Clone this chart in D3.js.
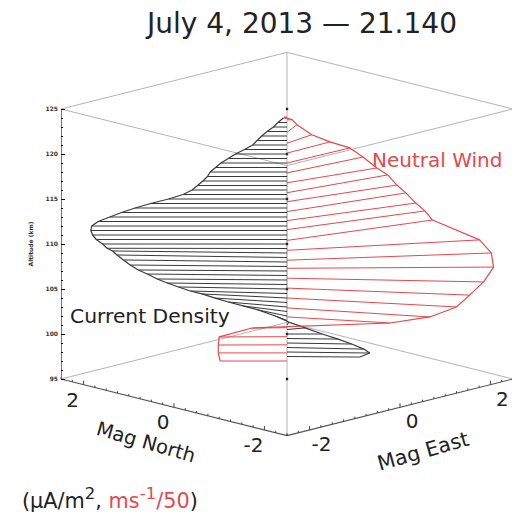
<!DOCTYPE html>
<html lang="en">
<head>
<meta charset="utf-8" />
<title>July 4, 2013 - 21.140</title>
<script src="https://cdn.jsdelivr.net/npm/d3@7"></script>
<style>
  body { margin: 0; background: #fff; }
  svg { display: block; }
  text { font-family: "DejaVu Sans", Verdana, sans-serif; }
</style>
</head>
<body>
<div id="chart"></div>
<script>
"use strict";

// current density profile (uA/m^2), one value per altitude (km)
const blackAlt = [124, 123.5, 123, 122.5, 122, 121.5, 121, 120.5, 120, 119.5, 119, 118.5, 118, 117.5, 117,
  116.5, 116, 115.5, 115, 114.5, 114, 113.5, 113, 112.5, 112, 111.5, 111, 110.5, 110, 109.5, 109, 108.5,
  108, 107.5, 107, 106.5, 106, 105.5, 105, 104.5, 104, 103.5, 103, 102.5, 102, 101.5, 101, 100.5, 100,
  99.5, 99, 98.5, 98, 97.5]
const blackNorth = [0.04, 0.10, 0.15, 0.22, 0.28, 0.33, 0.38, 0.47, 0.57, 0.65, 0.73, 0.79, 0.85, 0.88, 0.93,
  0.99, 1.05, 1.15, 1.31, 1.51, 1.68, 1.83, 1.96, 2.09, 2.16, 2.17, 2.15, 2.11, 2.04, 2.00, 2.02, 1.99,
  1.90, 1.80, 1.69, 1.61, 1.48, 1.39, 1.29, 1.18, 1.12, 0.99, 0.87, 0.73, 0.59, 0.33, 0.11, -0.13, -0.39,
  -0.59, -0.76, -0.92, -0.96, -0.83]
const blackEast = [-0.04, -0.10, -0.15, -0.22, -0.28, -0.33, -0.38, -0.47, -0.57, -0.65, -0.73, -0.79, -0.85, -0.88, -0.93,
  -0.99, -1.05, -1.15, -1.31, -1.51, -1.68, -1.83, -1.96, -2.09, -2.16, -2.17, -2.15, -2.11, -2.04, -1.98, -1.84, -1.77,
  -1.72, -1.67, -1.60, -1.48, -1.39, -1.26, -1.11, -0.96, -0.76, -0.60, -0.43, -0.24, -0.05, 0.07, 0.15, 0.27, 0.39,
  0.54, 0.67, 0.78, 0.87, 0.78]

// neutral wind profile (m/s / 50)
const redAlt = [124.1, 123.8, 122.4, 121.2, 120.1, 119.0, 117.9, 116.8, 115.7, 114.7, 113.6, 112.6, 111.6, 110.4,
  109.3, 108.2, 107.3, 106.2, 105.1, 104.0, 102.9, 101.9, 100.7, 99.7, 98.8, 97.9, 97.0]
const redNorth = [0.03, -0.06, 0.23, 0.10, 0.02, -0.03, -0.14, -0.34, -0.33, -0.48, -0.49, -0.65, -0.70, -0.71,
  -1.67, -1.94, -2.23, -2.34, -2.33, -2.27, -1.98, -1.41, 0.37, 0.74, 0.75, 0.76, 0.74]
const redEast = [-0.03, 0.06, 0.45, 0.65, 0.97, 1.36, 1.54, 1.65, 1.90, 1.95, 2.14, 2.20, 2.35, 2.51,
  2.59, 2.58, 2.34, 2.01, 1.71, 1.48, 1.18, 0.87, -0.40, -0.76, -0.77, -0.76, -0.74]

const altTicks = [95, 100, 105, 110, 115, 120, 125]
const horizTicks = [-2, 0, 2]

let width = 512, height = 514
let cx = 287
let half = 2.5
let red = "#e8474c"

let y = d3.scaleLinear().domain([95, 125]).range([379, 109])
let h = d3.scaleLinear().domain([-half, half]).range([-113, 113])
let v = d3.scaleLinear().domain([-half, half]).range([-28.3, 28.3])
let proj = (n, e, alt) => [cx + h(e) - h(n), y(alt) - v(n) - v(e)]

let svg = d3.select("#chart").append("svg")
    .attr("width", width)
    .attr("height", height)

// box
let c = (n, e, a) => proj(n * half, e * half, a)
let boxEdges = [
  [c(1, -1, 125), c(1, 1, 125)], [c(1, 1, 125), c(-1, 1, 125)],
  [c(1, -1, 125), c(-1, -1, 125)], [c(-1, -1, 125), c(-1, 1, 125)],
  [c(1, -1, 95), c(1, 1, 95)], [c(1, 1, 95), c(-1, 1, 95)],
  [c(1, 1, 95), c(1, 1, 125)], [c(-1, -1, 95), c(-1, -1, 125)],
  [c(-1, 1, 95), c(-1, 1, 125)]
]
svg.append("g").selectAll("line").data(boxEdges).join("line")
    .attr("x1", d => d[0][0]).attr("y1", d => d[0][1])
    .attr("x2", d => d[1][0]).attr("y2", d => d[1][1])
    .attr("stroke", "#b4b4b4").attr("stroke-width", 1)

// front bottom axes
let axesG = svg.append("g")
axesG.append("line")
    .attr("x1", c(1, -1, 95)[0]).attr("y1", c(1, -1, 95)[1])
    .attr("x2", c(-1, -1, 95)[0]).attr("y2", c(-1, -1, 95)[1])
    .attr("stroke", "#555").attr("stroke-width", 1.2)
axesG.append("line")
    .attr("x1", c(-1, -1, 95)[0]).attr("y1", c(-1, -1, 95)[1])
    .attr("x2", c(-1, 1, 95)[0]).attr("y2", c(-1, 1, 95)[1])
    .attr("stroke", "#555").attr("stroke-width", 1.2)

let minor = d3.range(-2.5, 2.51, 0.25)
minor.forEach(t => {
  let len = horizTicks.includes(t) ? 4 : 2
  let pN = proj(t, -half, 95)
  let pE = proj(-half, t, 95)
  axesG.append("line").attr("x1", pN[0]).attr("y1", pN[1]).attr("x2", pN[0]).attr("y2", pN[1] - len)
      .attr("stroke", "#444")
  axesG.append("line").attr("x1", pE[0]).attr("y1", pE[1]).attr("x2", pE[0]).attr("y2", pE[1] - len)
      .attr("stroke", "#444")
})

horizTicks.forEach(t => {
  let pN = proj(t, -half, 95)
  let pE = proj(-half, t, 95)
  svg.append("text").attr("x", pN[0] - 11).attr("y", pN[1] + 15).attr("dy", "0.35em")
      .attr("text-anchor", "middle").attr("font-size", 20).attr("fill", "#222").text(t)
  svg.append("text").attr("x", pE[0] + 12).attr("y", pE[1] + 14).attr("dy", "0.35em")
      .attr("text-anchor", "middle").attr("font-size", 20).attr("fill", "#222").text(t)
})

svg.append("text").attr("transform", "translate(146,442) rotate(16)")
    .attr("text-anchor", "middle").attr("dy", "0.35em").attr("font-size", 19.5).attr("fill", "#222")
    .text("Mag North")
svg.append("text").attr("transform", "translate(423,451) rotate(-16)")
    .attr("text-anchor", "middle").attr("dy", "0.35em").attr("font-size", 20.5).attr("fill", "#222")
    .text("Mag East")

// altitude axis on the left corner
let leftX = c(1, -1, 95)[0]
let altAxis = svg.append("g")
    .attr("transform", `translate(${leftX},0)`)
    .call(d3.axisLeft(y).tickValues(altTicks).tickSize(-4).tickPadding(3).tickFormat(d3.format("d")))
altAxis.select(".domain").attr("stroke", "#777")
altAxis.selectAll("text").attr("font-size", 6).attr("font-weight", "bold")
    .attr("font-family", "'DejaVu Serif', serif").attr("fill", "#333")
svg.append("g")
    .attr("transform", `translate(${leftX},0)`)
    .call(d3.axisLeft(y).tickValues(d3.range(95, 126, 1)).tickSize(-2).tickFormat(""))
    .call(g => g.select(".domain").remove())
svg.append("text").attr("transform", `translate(33,${y(110)}) rotate(-90)`)
    .attr("text-anchor", "middle").attr("font-size", 6).attr("font-weight", "bold")
    .attr("font-family", "'DejaVu Serif', serif").attr("fill", "#333")
    .text("Altitude (km)")

// central profile axis
svg.append("g").selectAll("rect").data(altTicks).join("rect")
    .attr("x", cx - 1.2).attr("y", d => y(d) - 1.2).attr("width", 2.4).attr("height", 2.4)
    .attr("fill", "#222")

// profiles
function drawProfile(alts, north, east, color, width) {
  let pts = alts.map((a, i) => ({ a: a, base: proj(0, 0, a), tip: proj(north[i], east[i], a) }))
  let g = svg.append("g")
  g.selectAll("line").data(pts).join("line")
      .attr("x1", d => d.base[0]).attr("y1", d => d.base[1])
      .attr("x2", d => d.tip[0]).attr("y2", d => d.tip[1])
      .attr("stroke", color).attr("stroke-width", width)
  g.append("path").datum(pts)
      .attr("fill", "none").attr("stroke", color).attr("stroke-width", width + 0.2)
      .attr("stroke-linejoin", "round")
      .attr("d", d3.line().x(d => d.tip[0]).y(d => d.tip[1]))
}
drawProfile(blackAlt, blackNorth, blackEast, "#3a3a3a", 1)
drawProfile(redAlt, redNorth, redEast, red, 1)

// labels
svg.append("text").attr("x", 302).attr("y", 33).attr("text-anchor", "middle")
    .attr("font-size", 28).attr("fill", "#222").text("July 4, 2013 \u2014 21.140")
svg.append("text").attr("x", 70).attr("y", 323).attr("font-size", 20.3).attr("fill", "#222")
    .text("Current Density")
svg.append("text").attr("x", 372).attr("y", 167).attr("font-size", 20).attr("fill", red)
    .text("Neutral Wind")

let units = svg.append("text").attr("x", 22).attr("y", 508).attr("font-size", 20.8).attr("fill", "#222")
units.append("tspan").text("(\u00b5A/m")
units.append("tspan").attr("dy", -9).attr("font-size", 16.5).text("2")
units.append("tspan").attr("dy", 9).text(", ")
units.append("tspan").attr("fill", red).text("ms")
units.append("tspan").attr("fill", red).attr("dy", -9).attr("font-size", 16.5).text("-1")
units.append("tspan").attr("fill", red).attr("dy", 9).text("/50")
units.append("tspan").text(")")
</script>
</body>
</html>
